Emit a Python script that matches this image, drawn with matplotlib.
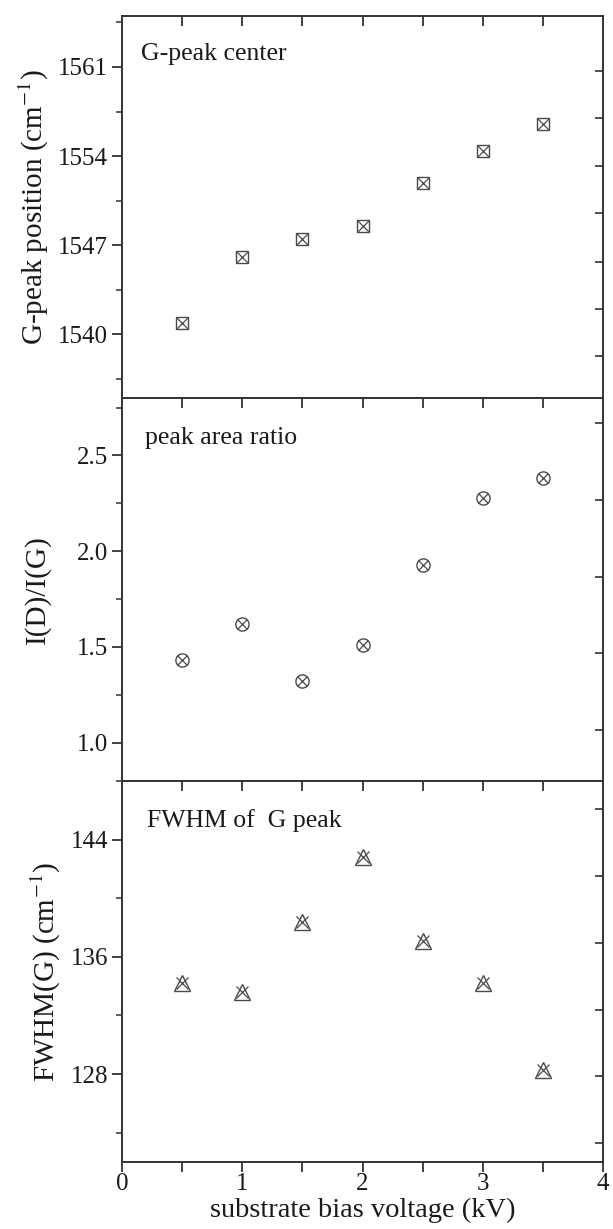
import matplotlib
matplotlib.use("Agg")
import matplotlib.pyplot as plt
from matplotlib.ticker import MultipleLocator, FixedLocator

plt.rcParams['font.family'] = ['Liberation Serif', 'DejaVu Serif']
plt.rcParams['mathtext.fontset'] = 'stix'

# ---------------- data ----------------
bias_kv = [0.5, 1.0, 1.5, 2.0, 2.5, 3.0, 3.5]
g_peak_position = [1540.9, 1546.1, 1547.5, 1548.5, 1551.9, 1554.4, 1556.5]
id_ig_ratio = [1.43, 1.62, 1.32, 1.51, 1.93, 2.28, 2.38]
fwhm_g = [134.2, 133.6, 138.4, 142.8, 137.1, 134.2, 128.3]

top_yticks = [1540, 1547, 1554, 1561]
mid_yticks = [1.0, 1.5, 2.0, 2.5]
bot_yticks = [128, 136, 144]
x_ticks = [0, 1, 2, 3, 4]

top_right_ticks = [1538.3, 1542.0, 1545.7, 1549.5, 1553.2, 1557.0, 1560.7]
mid_right_ticks = [1.065, 1.467, 1.864, 2.267, 2.669]
bot_right_ticks = [123.3, 127.85, 132.4, 136.97, 141.5, 146.1]

panel_titles = ["G-peak center", "peak area ratio", "FWHM of  G peak"]
ylabels = ["G-peak position (cm$^{-1}$)", "I(D)/I(G)", "FWHM(G) (cm$^{-1}$)"]
xlabel = "substrate bias voltage (kV)"

# ---------------- figure ----------------
W, H = 613, 1229
fig = plt.figure(figsize=(W / 100, H / 100), dpi=100)

left = 122 / W
width = 481 / W
def ax_rect(top_px, bot_px):
    return [left, 1 - bot_px / H, width, (bot_px - top_px) / H]

ax1 = fig.add_axes(ax_rect(16, 398))
ax2 = fig.add_axes(ax_rect(398, 781))
ax3 = fig.add_axes(ax_rect(781, 1162))

spine_col = '#333333'
mk_col = '#4a4a4a'
txt_col = '#1a1a1a'

configs = [
    (ax1, g_peak_position, (1535, 1565), top_yticks, 3.5, top_right_ticks, 's', 8.5, 8.5),
    (ax2, id_ig_ratio, (0.8, 2.8), mid_yticks, 0.25, mid_right_ticks, 'o', 9.5, 6.6),
    (ax3, fwhm_g, (122, 148), bot_yticks, 4, bot_right_ticks, '^', 11, 9.0),
]
title_pos = [(0.04, 0.9), (0.047, 0.895), (0.053, 0.895)]

for i, (ax, yvals, ylim, yt, minor, rticks, mk, ms, xms) in enumerate(configs):
    ax.plot(bias_kv, yvals, linestyle='none', marker=mk, ms=ms, mfc='none',
            mec=mk_col, mew=1.0, zorder=3)
    ax.plot(bias_kv, yvals, linestyle='none', marker='x', ms=xms,
            mec=mk_col, mew=0.9, zorder=3)
    ax.set_xlim(0, 4)
    ax.set_ylim(*ylim)
    ax.yaxis.set_major_locator(FixedLocator(yt))
    ax.yaxis.set_minor_locator(MultipleLocator(minor))
    if i == 1:
        ax.yaxis.set_major_formatter(matplotlib.ticker.FormatStrFormatter('%.1f'))
    for s in ax.spines.values():
        s.set_color(spine_col)
        s.set_linewidth(1.4)
    ax.tick_params(axis='y', which='major', direction='out', length=7, width=1.3,
                   colors=spine_col, labelcolor=txt_col, labelsize=18, pad=3)
    ax.tick_params(axis='y', which='minor', direction='out', length=4, width=1.1,
                   colors=spine_col)
    # top ticks (inward, every 0.5 between 0.5 and 3.5)
    ax.xaxis.set_major_locator(FixedLocator([0.5, 1.0, 1.5, 2.0, 2.5, 3.0, 3.5]))
    ax.tick_params(axis='x', which='major', bottom=False, top=True, labelbottom=False,
                   direction='in', length=7, width=1.3, colors=spine_col)
    # right ticks, independent positions, inward
    axr = ax.twinx()
    axr.set_ylim(*ylim)
    axr.yaxis.set_major_locator(FixedLocator(rticks))
    axr.tick_params(axis='y', which='major', direction='in', length=6, width=1.2,
                    colors=spine_col, labelright=False)
    for s in axr.spines.values():
        s.set_visible(False)
    tx, ty = title_pos[i]
    ax.text(tx, ty, panel_titles[i], transform=ax.transAxes, fontsize=18.5,
            color=txt_col, ha='left', va='center')
    ax.set_ylabel(ylabels[i], fontsize=21, color=txt_col)

ax1.yaxis.set_label_coords(-0.148, 0.5)
ax2.yaxis.set_label_coords(-0.148, 0.5)
ax3.yaxis.set_label_coords(-0.122, 0.5)

# bottom axis of the lowest panel
axb = ax3.secondary_xaxis('bottom')
axb.xaxis.set_major_locator(FixedLocator(x_ticks))
axb.xaxis.set_minor_locator(MultipleLocator(0.5))
axb.tick_params(axis='x', which='major', direction='out', length=7, width=1.3,
                colors=spine_col, labelcolor=txt_col, labelsize=18, pad=1)
axb.tick_params(axis='x', which='minor', direction='out', length=7, width=1.3,
                colors=spine_col)
axb.spines['bottom'].set_visible(False)
axb.set_xlabel(xlabel, fontsize=20.5, color=txt_col, labelpad=2)

fig.savefig("out.png", dpi=100, facecolor='white')
